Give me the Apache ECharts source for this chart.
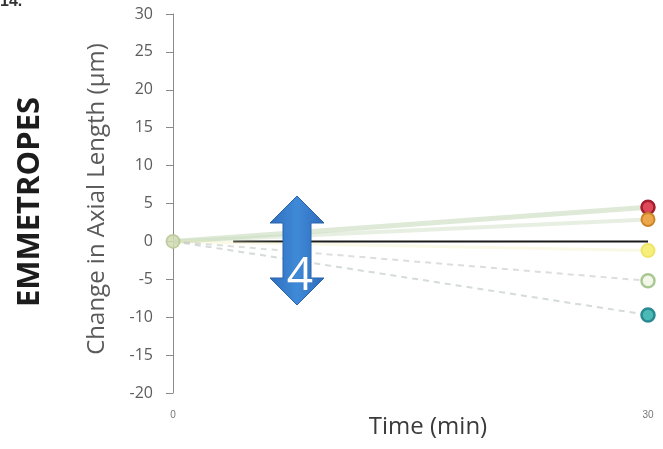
<!DOCTYPE html>
<html>
<head>
<meta charset="utf-8">
<script src="https://cdn.jsdelivr.net/npm/echarts@6/dist/echarts.min.js"></script>
<style>
  html, body { margin: 0; padding: 0; background: #fff; }
  #chart { width: 663px; height: 449px; }
</style>
</head>
<body>
<div id="chart"></div>
<script>
// Time points (minutes)
const times = [0, 30];

// Change in axial length (µm) per eye, at 0 and 30 min
const eyeRed = [0, 4.5];
const eyeOrange = [0, 2.9];
const eyeYellow = [0, -1.2];
const eyeLightGreen = [0, -5.2];
const eyeTeal = [0, -9.7];

// Zero reference line extent (minutes)
const baselineTimes = [3.8, 30];
const baselineVals = [0, 0];

// Axis ranges
const yMin = -20, yMax = 30, yStep = 5;
const xMin = 0, xMax = 30, xStep = 30;

// Mean change annotation
const meanChangeLabel = '4';

const chart = echarts.init(document.getElementById('chart'), null, { renderer: 'canvas' });

const pairs = (xs, ys) => xs.map((x, i) => [x, ys[i]]);

function eyeSeries(name, vals, line, marker) {
  return {
    name: name,
    type: 'line',
    data: pairs(times, vals).map((p, i) => ({
      value: p,
      itemStyle: i === 0
        ? { color: 'rgba(210,218,180,0.3)', borderColor: 'rgba(185,200,150,0.4)', borderWidth: 1.5 }
        : marker
    })),
    symbol: 'circle',
    symbolSize: 13,
    showSymbol: true,
    lineStyle: line,
    z: 3
  };
}

const option = {
  animation: false,
  backgroundColor: '#ffffff',
  grid: { left: 173, right: 15, top: 14, bottom: 56, containLabel: false },
  xAxis: {
    type: 'value',
    min: xMin, max: xMax, interval: xStep,
    axisLine: { show: false, onZero: false },
    axisTick: { show: false },
    splitLine: { show: false },
    axisLabel: { color: '#777', fontSize: 10, margin: 17, fontFamily: 'Liberation Sans' }
  },
  yAxis: {
    type: 'value',
    min: yMin, max: yMax, interval: yStep,
    axisLine: { show: true, lineStyle: { color: '#8a8a8a', width: 1 } },
    axisTick: { show: true, inside: false, length: 7, lineStyle: { color: '#8a8a8a' } },
    splitLine: { show: false },
    axisLabel: { color: '#5c5c5c', fontSize: 16, margin: 20, fontFamily: 'Open Sans' }
  },
  series: [
    eyeSeries('Eye 1', eyeRed,
      { color: 'rgba(190,214,175,0.5)', width: 5 },
      { color: '#e0485a', borderColor: '#a31d2e', borderWidth: 2.5 }),
    eyeSeries('Eye 2', eyeOrange,
      { color: 'rgba(198,218,185,0.42)', width: 4 },
      { color: '#eda64a', borderColor: '#c98628', borderWidth: 2 }),
    eyeSeries('Eye 3', eyeYellow,
      { color: 'rgba(238,236,175,0.3)', width: 3 },
      { color: '#f7ef7c', borderColor: '#efe46a', borderWidth: 2 }),
    eyeSeries('Eye 4', eyeLightGreen,
      { color: 'rgba(200,205,200,0.65)', width: 2, type: [6, 5] },
      { color: '#f2f7ea', borderColor: '#a9c893', borderWidth: 2.5 }),
    eyeSeries('Eye 5', eyeTeal,
      { color: 'rgba(195,202,202,0.7)', width: 2, type: [6, 5] },
      { color: '#4bb9b6', borderColor: '#2a8a92', borderWidth: 2.5 }),
    {
      name: 'Zero',
      type: 'line',
      data: pairs(baselineTimes, baselineVals),
      symbol: 'none',
      lineStyle: { color: '#1a1a1a', width: 2 },
      z: 2
    }
  ],
  graphic: [
    {
      type: 'text',
      left: 0, top: -6,
      style: { text: '14.', fill: '#333', font: 'bold 16px "Liberation Sans"' }
    },
    {
      type: 'text',
      x: 30, y: 202,
      rotation: Math.PI / 2,
      style: {
        text: 'EMMETROPES',
        fill: '#1c1c1c',
        font: 'bold 31px "Open Sans"',
        align: 'center',
        verticalAlign: 'middle'
      }
    },
    {
      type: 'text',
      x: 97, y: 199,
      rotation: Math.PI / 2,
      style: {
        text: 'Change in Axial Length (µm)',
        fill: '#5a5a5a',
        font: '24px "Open Sans"',
        align: 'center',
        verticalAlign: 'middle'
      }
    },
    {
      type: 'text',
      x: 428, y: 427,
      style: {
        text: 'Time (min)',
        fill: '#3a3a3a',
        font: '24px "Open Sans"',
        align: 'center',
        verticalAlign: 'middle'
      }
    },
    {
      type: 'polygon',
      z: 20,
      shape: {
        points: [
          [297, 196], [324, 223], [311, 223], [311, 278], [324, 278],
          [297, 305], [270, 278], [283, 278], [283, 223], [270, 223]
        ]
      },
      style: {
        fill: {
          type: 'linear', x: 0, y: 0, x2: 1, y2: 0,
          colorStops: [
            { offset: 0, color: '#2f6fbe' },
            { offset: 0.5, color: '#3f8ad8' },
            { offset: 1, color: '#2d6bb9' }
          ]
        },
        stroke: '#2a64ad',
        lineWidth: 1
      }
    },
    {
      type: 'text',
      z: 21,
      x: 300, y: 277,
      style: {
        text: meanChangeLabel,
        fill: '#ffffff',
        stroke: '#3d7fc9',
        lineWidth: 1,
        font: '46px "Open Sans"',
        align: 'center',
        verticalAlign: 'middle'
      }
    }
  ]
};

chart.setOption(option);
</script>
</body>
</html>
